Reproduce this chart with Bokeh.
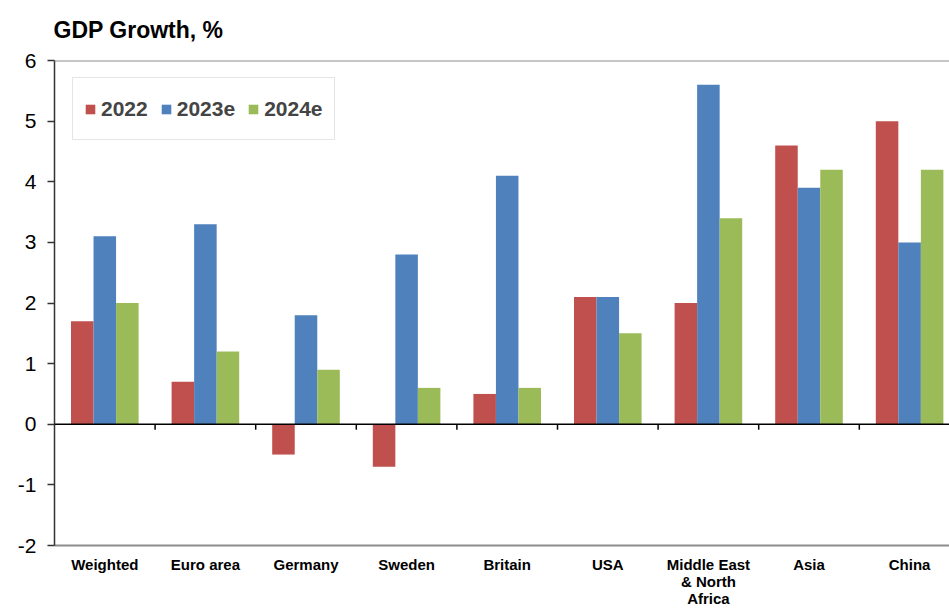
from bokeh.plotting import figure
from bokeh.models import ColumnDataSource, FixedTicker, Span, Legend, LegendItem, Range1d
from bokeh.transform import dodge
from bokeh.embed import file_html
from bokeh.resources import INLINE

categories = ["Weighted", "Euro area", "Germany", "Sweden", "Britain", "USA",
              "Middle East\n& North\nAfrica", "Asia", "China"]
growth_2022 = [1.7, 0.7, -0.5, -0.7, 0.5, 2.1, 2.0, 4.6, 5.0]
growth_2023e = [3.1, 3.3, 1.8, 2.8, 4.1, 2.1, 5.6, 3.9, 3.0]
growth_2024e = [2.0, 1.2, 0.9, 0.6, 0.6, 1.5, 3.4, 4.2, 4.2]
series_names = ["2022", "2023e", "2024e"]
colors = ["#C0504D", "#4F81BD", "#9BBB59"]
y_ticks = [-2, -1, 0, 1, 2, 3, 4, 5, 6]
title_text = "GDP Growth, %"

FONT = "Liberation Sans"
centers = [i + 0.5 for i in range(len(categories))]
boundaries = list(range(1, len(categories)))

src = ColumnDataSource(dict(x=centers, s0=growth_2022, s1=growth_2023e, s2=growth_2024e))

frame_w = 949 - 54
cat_px = 100.6
p = figure(width=949, height=609,
           x_range=Range1d(0, frame_w / cat_px), y_range=Range1d(-2, 6),
           output_backend="svg", toolbar_location=None,
           min_border_left=54, min_border_right=0, min_border_top=60, min_border_bottom=63)

bw = 0.224
renderers = []
for k, (col, c) in enumerate(zip(["s0", "s1", "s2"], colors)):
    r = p.vbar(x=dodge("x", (k - 1) * bw, range=p.x_range), top=col, bottom=0, width=bw,
               source=src, fill_color=c, line_color=None)
    renderers.append(r)

# zero line and ticks at category boundaries
p.add_layout(Span(location=0, dimension="width", line_color="black", line_width=1.5))
p.segment(x0=boundaries, y0=[0] * len(boundaries), x1=boundaries, y1=[-0.09] * len(boundaries),
          line_color="black", line_width=1.5)
# top border
p.add_layout(Span(location=6, dimension="width", line_color="#8c8c8c", line_width=2))

p.grid.visible = False
p.outline_line_color = None

# title
p.title.text = title_text
p.title.text_font = FONT
p.title.text_font_style = "bold"
p.title.text_font_size = "23px"
p.title.text_color = "black"
p.title.align = "left"
p.title.vertical_align = "top"
p.title.offset = -1
p.title.standoff = 32

# x axis
xa = p.xaxis[0]
xa.ticker = FixedTicker(ticks=centers)
xa.major_label_overrides = {c: lab for c, lab in zip(centers, categories)}
xa.major_tick_line_color = None
xa.minor_tick_line_color = None
xa.axis_line_color = "#8c8c8c"
xa.axis_line_width = 2
xa.major_label_text_font = FONT
xa.major_label_text_font_style = "bold"
xa.major_label_text_font_size = "15px"
xa.major_label_text_color = "black"
xa.major_label_text_line_height = 1.0
xa.major_label_standoff = 4

# y axis
ya = p.yaxis[0]
ya.ticker = FixedTicker(ticks=y_ticks)
ya.major_label_overrides = {t: str(t) for t in y_ticks if t < 0}
ya.axis_line_color = "#333333"
ya.axis_line_width = 1.5
ya.major_tick_line_color = "#333333"
ya.major_tick_line_width = 1.5
ya.major_tick_out = 7
ya.major_tick_in = 0
ya.minor_tick_line_color = None
ya.major_label_text_font = FONT
ya.major_label_text_font_size = "21px"
ya.major_label_text_color = "black"
ya.major_label_standoff = 11

legend = Legend(items=[LegendItem(label=n, renderers=[r]) for n, r in zip(series_names, renderers)],
                orientation="horizontal", location=(18, 405))
legend.border_line_color = "#cccccc"
legend.border_line_width = 1
legend.background_fill_color = "white"
legend.label_text_font = FONT
legend.label_text_font_style = "bold"
legend.label_text_font_size = "21px"
legend.glyph_width = 12
legend.glyph_height = 12
legend.label_standoff = 5
legend.spacing = 12
legend.padding = 11
legend.margin = 0
legend.label_height = 39
p.add_layout(legend)

open("out.html", "w").write(file_html(p, INLINE))
